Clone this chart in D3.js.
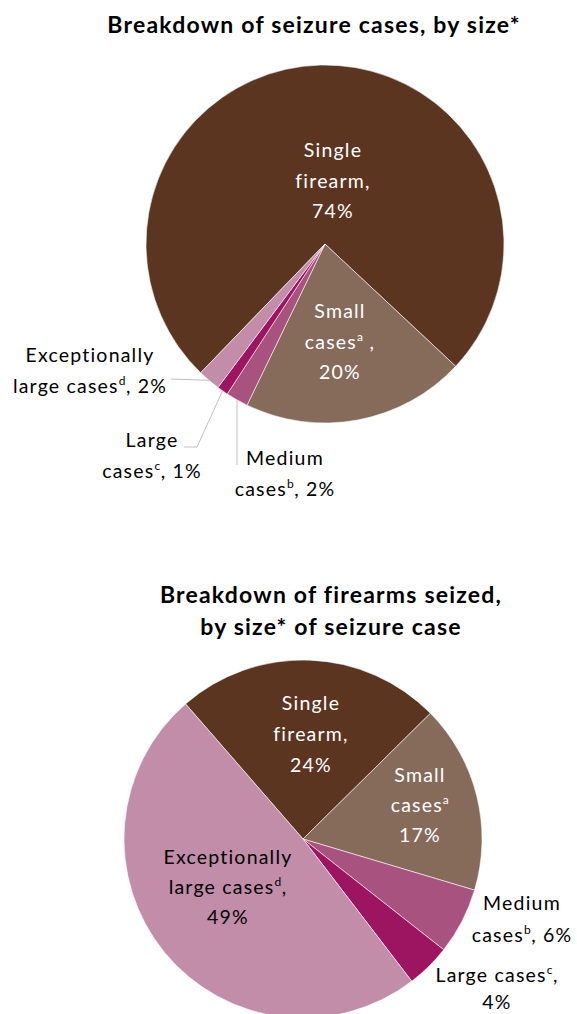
<!DOCTYPE html>
<html><head><meta charset="utf-8">
<script src="https://cdn.jsdelivr.net/npm/d3@7"></script>
<style>
html,body{margin:0;padding:0;background:#fff;}
svg{display:block;font-family:Lato,"Open Sans",sans-serif;}
</style></head>
<body>
<svg id="c" width="577" height="1014"></svg>
<script>
const categories = ["Single firearm", "Small cases", "Medium cases", "Large cases", "Exceptionally large cases"];
const superscripts = ["", "a", "b", "c", "d"];
const seizureCasesShare = [74, 20, 2, 1, 2];
const firearmsSeizedShare = [24, 17, 6, 4, 49];
const colors = ["#5C3520", "#866B5A", "#A8527F", "#9D1560", "#C18DA9"];

const svg = d3.select("#c");
const deg = Math.PI / 180;

function title(lines, cx, ys) {
  lines.forEach((t, i) => {
    svg.append("text").attr("x", cx).attr("y", ys[i]).attr("text-anchor", "middle")
      .attr("font-weight", "bold").attr("font-size", 23).attr("letter-spacing", 1.2)
      .attr("fill", "#000").text(t);
  });
}

function label(g, lines, x, y0, fill, lh = 30.5) {
  const t = g.append("text").attr("text-anchor", "middle").attr("font-size", 19.5)
    .attr("letter-spacing", 1.2).attr("fill", fill);
  lines.forEach((ln, i) => {
    const line = t.append("tspan").attr("x", x).attr("y", y0 + i * lh);
    let shifted = false;
    ln.forEach(([s, sup]) => {
      const sp = line.append("tspan").text(s);
      if (sup) { sp.attr("font-size", 12).attr("letter-spacing", 0.5).attr("dy", -8); shifted = true; }
      else if (shifted) { sp.attr("dy", 8); shifted = false; }
    });
  });
}

function drawPie(values, cx, cy, r, startDeg) {
  const pie = d3.pie().sort(null).value(d => d)
    .startAngle(startDeg * deg).endAngle((startDeg + 360) * deg);
  const arcs = pie(values);
  const arc = d3.arc().innerRadius(0).outerRadius(r);
  const g = svg.append("g").attr("transform", `translate(${cx},${cy})`);
  g.selectAll("path").data(arcs).join("path")
    .attr("d", arc).attr("fill", (d, i) => colors[i])
    .attr("stroke", "#fff").attr("stroke-width", 0.7).attr("stroke-opacity", 0.8);
  return {g, arcs, r};
}

function edgePoint(a, r) {
  const m = (a.startAngle + a.endAngle) / 2;
  return [Math.sin(m) * r, -Math.cos(m) * r];
}
const pct = (vals, i) => vals[i] + "%";

// ---------- Top chart ----------
title(["Breakdown of seizure cases, by size*"], 314, [33]);
const pieA = drawPie(seizureCasesShare, 325, 244, 179, -136);
const tg = svg.append("g");
const v1 = seizureCasesShare;
label(tg, [[["Single", false]], [["firearm,", false]], [[pct(v1, 0), false]]], 333, 157, "#fff");
label(tg, [[["Small", false]], [["cases", false], ["a", true], [" ,", false]], [[pct(v1, 1), false]]], 340, 318, "#fff");
label(tg, [[["Exceptionally", false]], [["large cases", false], ["d", true], [", " + pct(v1, 4), false]]], 90, 362, "#000");
label(tg, [[["Large", false]], [["cases", false], ["c", true], [", " + pct(v1, 3), false]]], 152, 447, "#000");
label(tg, [[["Medium", false]], [["cases", false], ["b", true], [", " + pct(v1, 2), false]]], 285, 465, "#000");

const lc = "#BFBFBF";
function leader(pts) {
  svg.append("path").attr("d", d3.line()(pts)).attr("fill", "none").attr("stroke", lc).attr("stroke-width", 1);
}
{
  const [ex, ey] = edgePoint(pieA.arcs[4], pieA.r);
  leader([[325 + ex, 244 + ey], [171, 379]]);
  const [lx, ly] = edgePoint(pieA.arcs[3], pieA.r);
  leader([[325 + lx, 244 + ly], [197, 447], [184, 447]]);
  const [mx, my] = edgePoint(pieA.arcs[2], pieA.r);
  leader([[325 + mx, 244 + my], [325 + mx, 465]]);
}

// ---------- Bottom chart ----------
title(["Breakdown of firearms seized,", "by size* of seizure case"], 331, [603, 635]);
const pieB = drawPie(firearmsSeizedShare, 303, 839, 179, -41);
const bg = svg.append("g");
const v2 = firearmsSeizedShare;
label(bg, [[["Single", false]], [["firearm,", false]], [[pct(v2, 0), false]]], 311, 710, "#fff", 31);
label(bg, [[["Small", false]], [["cases", false], ["a", true]], [[pct(v2, 1), false]]], 420, 782, "#fff", 30);
label(bg, [[["Exceptionally", false]], [["large cases", false], ["d", true], [",", false]], [[pct(v2, 4), false]]], 228, 864, "#000", 30);
label(bg, [[["Medium", false]], [["cases", false], ["b", true], [", " + pct(v2, 2), false]]], 522, 910, "#000", 32);
label(bg, [[["Large cases", false], ["c", true], [",", false]], [[pct(v2, 3), false]]], 497, 982, "#000", 26.5);
</script>
</body></html>
